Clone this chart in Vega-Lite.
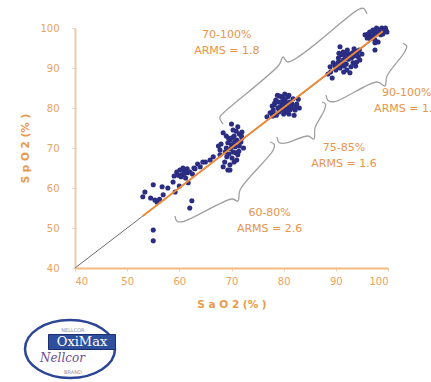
{
  "$schema": "https://vega.github.io/schema/vega-lite/v6.json",
  "autosize": {"type": "none"},
  "padding": {"left": 75, "top": 28, "right": 43, "bottom": 114},
  "width": 313,
  "height": 240,
  "background": "white",
  "config": {
    "view": {"stroke": null},
    "font": "DejaVu Sans",
    "axis": {
      "grid": false,
      "labelColor": "#eba35e",
      "labelFont": "DejaVu Sans",
      "labelFontSize": 10,
      "labelOverlap": false,
      "titleColor": "#e99a4c",
      "titleFont": "DejaVu Sans",
      "titleFontSize": 10.5,
      "titleFontWeight": "bold",
      "tickSize": 3,
      "tickColor": "#ecd2b0",
      "domainWidth": 2
    }
  },
  "datasets": {
    "pts": [
      {"x": 55.0, "y": 49.5}, {"x": 55.0, "y": 46.8}, {"x": 62.4, "y": 56.8}, {"x": 62.0, "y": 55.0},
      {"x": 53.0, "y": 57.8}, {"x": 53.4, "y": 59.0}, {"x": 55.0, "y": 60.8}, {"x": 56.7, "y": 60.3},
      {"x": 57.8, "y": 60.0}, {"x": 55.3, "y": 57.0}, {"x": 55.7, "y": 56.5}, {"x": 56.2, "y": 57.2},
      {"x": 56.9, "y": 58.3}, {"x": 54.5, "y": 57.5}, {"x": 58.8, "y": 61.5}, {"x": 59.2, "y": 59.0},
      {"x": 59.5, "y": 64.0}, {"x": 60.1, "y": 64.5}, {"x": 60.7, "y": 65.0}, {"x": 61.5, "y": 63.8},
      {"x": 60.5, "y": 63.3}, {"x": 62.0, "y": 64.0}, {"x": 61.0, "y": 64.2}, {"x": 59.8, "y": 63.2},
      {"x": 60.3, "y": 62.8}, {"x": 61.2, "y": 62.5}, {"x": 62.5, "y": 63.5}, {"x": 63.0, "y": 64.8},
      {"x": 64.0, "y": 65.3}, {"x": 61.7, "y": 61.3}, {"x": 60.0, "y": 60.5}, {"x": 63.5, "y": 66.0},
      {"x": 65.0, "y": 66.5}, {"x": 65.9, "y": 67.0}, {"x": 64.5, "y": 66.5}, {"x": 66.5, "y": 67.8},
      {"x": 67.8, "y": 68.3}, {"x": 67.8, "y": 69.5},
      {"x": 61.5, "y": 64.8}, {"x": 60.9, "y": 63.6}, {"x": 62.8, "y": 65.0}, {"x": 59.0, "y": 63.0},
      {"x": 68.4, "y": 73.8}, {"x": 69.7, "y": 72.0}, {"x": 69.3, "y": 71.3}, {"x": 70.7, "y": 70.3},
      {"x": 71.2, "y": 68.3}, {"x": 70.1, "y": 67.5}, {"x": 68.4, "y": 65.3}, {"x": 69.7, "y": 64.5},
      {"x": 69.3, "y": 64.5}, {"x": 69.7, "y": 65.8}, {"x": 69.1, "y": 67.8}, {"x": 70.3, "y": 74.5},
      {"x": 71.2, "y": 75.3}, {"x": 72.0, "y": 74.0}, {"x": 70.5, "y": 73.0}, {"x": 71.0, "y": 72.0},
      {"x": 70.0, "y": 70.8}, {"x": 69.0, "y": 70.0}, {"x": 70.3, "y": 69.0}, {"x": 71.5, "y": 70.5},
      {"x": 71.8, "y": 71.5}, {"x": 70.8, "y": 68.8}, {"x": 68.8, "y": 69.0}, {"x": 69.5, "y": 68.5},
      {"x": 70.5, "y": 66.5}, {"x": 71.0, "y": 67.0}, {"x": 72.0, "y": 72.5}, {"x": 68.0, "y": 71.0},
      {"x": 67.5, "y": 70.5}, {"x": 69.0, "y": 73.0}, {"x": 70.0, "y": 76.0}, {"x": 71.5, "y": 73.5},
      {"x": 72.3, "y": 70.0}, {"x": 68.7, "y": 66.5},
      {"x": 70.6, "y": 71.5}, {"x": 69.8, "y": 69.8}, {"x": 71.4, "y": 69.2}, {"x": 70.2, "y": 72.6},
      {"x": 69.4, "y": 72.5}, {"x": 70.9, "y": 74.2}, {"x": 71.9, "y": 73.0},
      {"x": 76.8, "y": 77.8}, {"x": 78.0, "y": 78.8}, {"x": 79.3, "y": 80.3},
      {"x": 79.9, "y": 82.5}, {"x": 78.3, "y": 81.3}, {"x": 81.2, "y": 81.5}, {"x": 82.2, "y": 79.5},
      {"x": 80.6, "y": 79.0}, {"x": 78.0, "y": 79.5}, {"x": 78.9, "y": 80.0}, {"x": 79.7, "y": 80.8},
      {"x": 77.4, "y": 78.8}, {"x": 80.0, "y": 81.5}, {"x": 80.8, "y": 82.8}, {"x": 79.2, "y": 83.0},
      {"x": 80.5, "y": 80.5}, {"x": 81.5, "y": 80.2}, {"x": 79.5, "y": 79.5}, {"x": 78.5, "y": 82.0},
      {"x": 81.0, "y": 78.5}, {"x": 82.5, "y": 81.0}, {"x": 79.0, "y": 81.5}, {"x": 80.2, "y": 83.5},
      {"x": 81.8, "y": 82.3}, {"x": 77.8, "y": 80.5}, {"x": 80.0, "y": 78.5}, {"x": 82.0, "y": 78.2},
      {"x": 78.6, "y": 78.2}, {"x": 83.0, "y": 80.0}, {"x": 79.8, "y": 81.8}, {"x": 80.9, "y": 81.0},
      {"x": 80.3, "y": 82.0}, {"x": 79.6, "y": 82.8}, {"x": 81.6, "y": 81.0}, {"x": 80.7, "y": 80.0},
      {"x": 79.1, "y": 79.0}, {"x": 81.3, "y": 79.6}, {"x": 78.2, "y": 80.8}, {"x": 80.4, "y": 81.3},
      {"x": 79.4, "y": 80.2}, {"x": 82.8, "y": 82.2}, {"x": 81.0, "y": 83.2}, {"x": 78.8, "y": 83.2},
      {"x": 80.1, "y": 79.6}, {"x": 77.9, "y": 78.0}, {"x": 82.4, "y": 80.5},
      {"x": 90.8, "y": 95.3}, {"x": 91.4, "y": 94.0}, {"x": 88.9, "y": 90.3}, {"x": 89.5, "y": 91.3},
      {"x": 92.7, "y": 92.8}, {"x": 94.1, "y": 93.8}, {"x": 93.3, "y": 91.3}, {"x": 92.1, "y": 89.5},
      {"x": 94.6, "y": 92.0}, {"x": 91.4, "y": 92.0}, {"x": 90.2, "y": 90.3}, {"x": 92.7, "y": 88.8},
      {"x": 89.3, "y": 87.5}, {"x": 90.5, "y": 91.5}, {"x": 91.0, "y": 90.8}, {"x": 92.0, "y": 91.0},
      {"x": 93.0, "y": 92.5}, {"x": 93.5, "y": 93.0}, {"x": 92.5, "y": 93.5}, {"x": 91.8, "y": 92.8},
      {"x": 90.0, "y": 89.5}, {"x": 91.5, "y": 89.0}, {"x": 93.8, "y": 90.5}, {"x": 94.5, "y": 94.5},
      {"x": 95.0, "y": 93.5}, {"x": 89.0, "y": 89.0}, {"x": 90.5, "y": 92.5}, {"x": 92.2, "y": 94.5},
      {"x": 91.0, "y": 93.3}, {"x": 93.5, "y": 94.8}, {"x": 88.5, "y": 88.5}, {"x": 94.0, "y": 91.5},
      {"x": 91.2, "y": 91.5}, {"x": 92.4, "y": 92.2}, {"x": 90.8, "y": 90.0}, {"x": 93.2, "y": 93.8},
      {"x": 91.7, "y": 93.7}, {"x": 92.9, "y": 90.3}, {"x": 90.3, "y": 91.0}, {"x": 89.8, "y": 90.6},
      {"x": 94.3, "y": 92.8}, {"x": 93.9, "y": 94.2}, {"x": 91.6, "y": 90.5}, {"x": 90.6, "y": 93.7},
      {"x": 95.6, "y": 98.3}, {"x": 97.1, "y": 99.5}, {"x": 98.8, "y": 100.0}, {"x": 99.8, "y": 99.0},
      {"x": 97.9, "y": 98.8}, {"x": 96.5, "y": 99.0}, {"x": 97.5, "y": 96.3}, {"x": 97.5, "y": 97.0},
      {"x": 98.1, "y": 96.5}, {"x": 96.0, "y": 97.5}, {"x": 98.5, "y": 99.5}, {"x": 99.2, "y": 99.8},
      {"x": 96.8, "y": 98.0}, {"x": 97.5, "y": 98.5}, {"x": 98.2, "y": 99.0}, {"x": 99.5, "y": 100.0},
      {"x": 96.2, "y": 98.5}, {"x": 97.8, "y": 100.0}, {"x": 99.0, "y": 98.5}, {"x": 97.5, "y": 94.5},
      {"x": 98.0, "y": 99.6}, {"x": 98.6, "y": 98.3}, {"x": 97.3, "y": 99.2}, {"x": 99.6, "y": 99.5},
      {"x": 96.6, "y": 97.3}, {"x": 98.9, "y": 99.3}, {"x": 97.0, "y": 98.0}
    ],
    "identity": [{"x": 40, "y": 40}, {"x": 100, "y": 100}],
    "fit": [{"x": 53, "y": 53}, {"x": 99, "y": 99.2}],
    "brackets": [
      {"b": 1, "i": 0, "x": 68.37, "y": 76.0}, {"b": 1, "i": 1, "x": 67.75, "y": 77.6},
      {"b": 1, "i": 2, "x": 68.3, "y": 78.6},
      {"b": 1, "i": 3, "x": 79.1, "y": 90.75}, {"b": 1, "i": 4, "x": 79.87, "y": 92.75},
      {"b": 1, "i": 5, "x": 80.83, "y": 91.5}, {"b": 1, "i": 6, "x": 94.3, "y": 104.6},
      {"b": 1, "i": 7, "x": 95.3, "y": 104.9},
      {"b": 1, "i": 8, "x": 95.97, "y": 103.5},
      {"b": 2, "i": 0, "x": 88.11, "y": 83.25}, {"b": 2, "i": 1, "x": 88.5, "y": 81.9},
      {"b": 2, "i": 2, "x": 89.8, "y": 81.6},
      {"b": 2, "i": 3, "x": 97.89, "y": 86.5}, {"b": 2, "i": 4, "x": 99.42, "y": 85.5},
      {"b": 2, "i": 5, "x": 99.8, "y": 88.0}, {"b": 2, "i": 6, "x": 103.2, "y": 94.0},
      {"b": 2, "i": 7, "x": 103.6, "y": 95.4},
      {"b": 2, "i": 8, "x": 102.87, "y": 96.25},
      {"b": 3, "i": 0, "x": 78.72, "y": 72.75}, {"b": 3, "i": 1, "x": 79.1, "y": 71.4},
      {"b": 3, "i": 2, "x": 80.2, "y": 71.2},
      {"b": 3, "i": 3, "x": 84.66, "y": 73.0}, {"b": 3, "i": 4, "x": 85.81, "y": 72.25},
      {"b": 3, "i": 5, "x": 86.0, "y": 75.0}, {"b": 3, "i": 6, "x": 87.8, "y": 79.5},
      {"b": 3, "i": 7, "x": 88.0, "y": 81.0},
      {"b": 3, "i": 8, "x": 87.35, "y": 81.5},
      {"b": 4, "i": 0, "x": 59.17, "y": 53.0}, {"b": 4, "i": 1, "x": 59.55, "y": 51.7},
      {"b": 4, "i": 2, "x": 60.7, "y": 51.6},
      {"b": 4, "i": 3, "x": 70.09, "y": 57.25}, {"b": 4, "i": 4, "x": 71.24, "y": 56.75},
      {"b": 4, "i": 5, "x": 71.63, "y": 59.5}, {"b": 4, "i": 6, "x": 78.0, "y": 69.5},
      {"b": 4, "i": 7, "x": 78.2, "y": 70.9},
      {"b": 4, "i": 8, "x": 77.38, "y": 71.5}
    ],
    "labels": [
      {"x": 69.1, "y": 98.25, "t": "70-100%\nARMS = 1.8"},
      {"x": 103.6, "y": 83.75, "t": "90-100%\nARMS = 1.4"},
      {"x": 91.56, "y": 70.0, "t": "75-85%\nARMS = 1.6"},
      {"x": 77.3, "y": 53.75, "t": "60-80%\nARMS = 2.6"}
    ]
  },
  "layer": [
    {
      "data": {"name": "identity"},
      "mark": {"type": "line", "color": "#6e6e6e", "strokeWidth": 1},
      "encoding": {
        "x": {"field": "x", "type": "quantitative",
              "scale": {"domain": [40, 100], "nice": false, "zero": false},
              "axis": {"values": [40, 50, 60, 70, 80, 90, 100], "title": "S a O 2  (% )",
                       "domainColor": "#f2bb80", "labelPadding": 5, "titlePadding": 13}},
        "y": {"field": "y", "type": "quantitative",
              "scale": {"domain": [40, 100], "nice": false, "zero": false},
              "axis": {"values": [40, 50, 60, 70, 80, 90, 100], "labelOverlap": false, "tickCount": 7,
                       "title": "S p O 2  (% )",
                       "domainColor": "#ebcda6", "labelPadding": 13, "titlePadding": 9}}
      }
    },
    {
      "data": {"name": "pts"},
      "mark": {"type": "circle", "color": "#2b2d82", "opacity": 1, "size": 26},
      "encoding": {
        "x": {"field": "x", "type": "quantitative"},
        "y": {"field": "y", "type": "quantitative"}
      }
    },
    {
      "data": {"name": "fit"},
      "mark": {"type": "line", "color": "#ec8a3a", "strokeWidth": 2},
      "encoding": {
        "x": {"field": "x", "type": "quantitative"},
        "y": {"field": "y", "type": "quantitative"}
      }
    },
    {
      "data": {"name": "brackets"},
      "mark": {"type": "line", "color": "#a0a0a0", "strokeWidth": 1.3, "interpolate": "catmull-rom"},
      "encoding": {
        "x": {"field": "x", "type": "quantitative"},
        "y": {"field": "y", "type": "quantitative"},
        "detail": {"field": "b"},
        "order": {"field": "i"}
      }
    },
    {
      "data": {"name": "labels"},
      "mark": {"type": "text", "color": "#e8944a", "fontSize": 11,
               "font": "DejaVu Sans", "lineBreak": "\n", "lineHeight": 16, "align": "center", "baseline": "middle"},
      "encoding": {
        "x": {"field": "x", "type": "quantitative"},
        "y": {"field": "y", "type": "quantitative"},
        "text": {"field": "t"}
      }
    },
    {
      "data": {"values": [{"x": 39.04, "y": 19.75}]},
      "mark": {"type": "point", "shape": "M-1,0A1,0.644,0,1,0,1,0A1,0.644,0,1,0,-1,0Z",
               "size": 8100, "filled": false, "stroke": "#2c4596", "strokeWidth": 2.5, "opacity": 1},
      "encoding": {
        "x": {"field": "x", "type": "quantitative"},
        "y": {"field": "y", "type": "quantitative"}
      }
    },
    {
      "data": {"values": [{"x": 41.34, "y": 21.5}]},
      "mark": {"type": "point", "shape": "M-1,-0.224L1,-0.224L1,0.224L-1,0.224Z",
               "size": 4489, "filled": true, "fill": "#2d4f9e", "stroke": "#1e2d70", "strokeWidth": 1, "opacity": 1},
      "encoding": {
        "x": {"field": "x", "type": "quantitative"},
        "y": {"field": "y", "type": "quantitative"}
      }
    },
    {
      "data": {"values": [{"x": 41.34, "y": 21.5, "t": "OxiMax"}]},
      "mark": {"type": "text", "color": "white", "font": "DejaVu Serif", "fontSize": 13, "align": "center", "baseline": "middle"},
      "encoding": {
        "x": {"field": "x", "type": "quantitative"},
        "y": {"field": "y", "type": "quantitative"},
        "text": {"field": "t"}
      }
    },
    {
      "data": {"values": [{"x": 39.6, "y": 24.6, "t": "NELLCOR"}, {"x": 39.6, "y": 13.9, "t": "BRAND"}]},
      "mark": {"type": "text", "color": "#9090a0", "fontSize": 5, "align": "center", "baseline": "middle"},
      "encoding": {
        "x": {"field": "x", "type": "quantitative"},
        "y": {"field": "y", "type": "quantitative"},
        "text": {"field": "t"}
      }
    },
    {
      "data": {"values": [{"x": 37.6, "y": 17.4, "t": "Nellcor"}]},
      "mark": {"type": "text", "color": "#6a4d92", "font": "DejaVu Serif", "fontStyle": "italic", "fontSize": 12, "align": "center", "baseline": "middle"},
      "encoding": {
        "x": {"field": "x", "type": "quantitative"},
        "y": {"field": "y", "type": "quantitative"},
        "text": {"field": "t"}
      }
    }
  ]
}
